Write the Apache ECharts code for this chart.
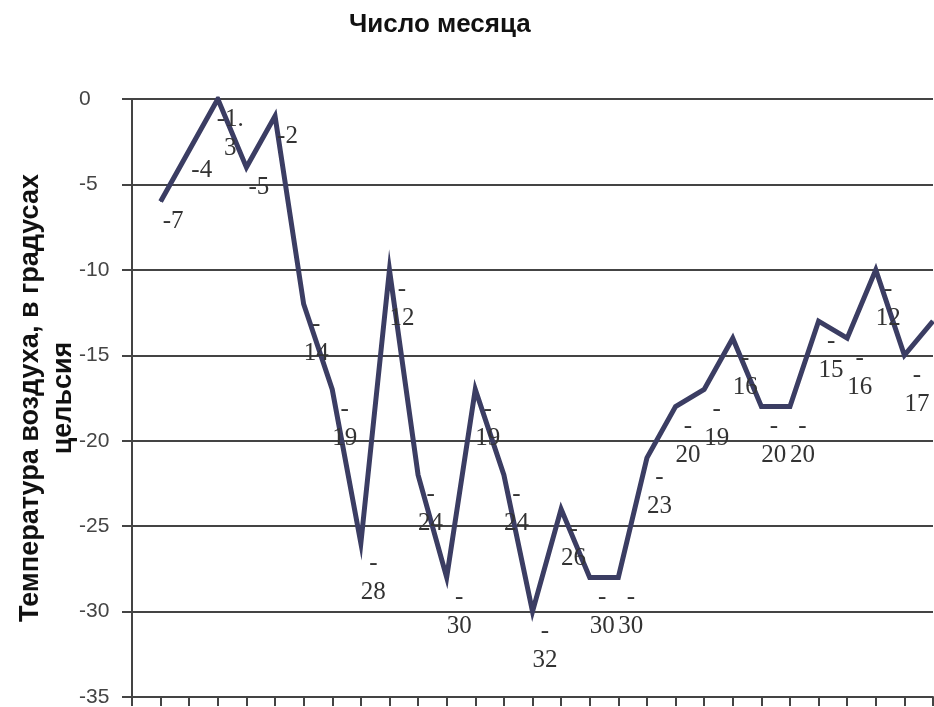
<!DOCTYPE html>
<html>
<head>
<meta charset="utf-8">
<title>Число месяца</title>
<script src="https://cdn.jsdelivr.net/npm/echarts@6/dist/echarts.min.js"></script>
<style>
  html, body { margin: 0; padding: 0; background: #fff; }
  #chart { width: 934px; height: 707px; }
</style>
</head>
<body>
<div id="chart"></div>
<script>
// дни месяца (1..28) и температура по линии графика
var days = [1, 2, 3, 4, 5, 6, 7, 8, 9, 10, 11, 12, 13, 14, 15, 16, 17, 18, 19, 20, 21, 22, 23, 24, 25, 26, 27, 28]
var temps = [-6, -3, 0, -4, -1, -12, -17, -26, -10, -22, -28, -17, -22, -30, -24, -28, -28, -21, -18, -17, -14, -18, -18, -13, -14, -10, -15, -13]
// подписи данных, как они напечатаны на графике
var pointLabels = [-7, -4, -1.3, -5, -2, -14, -19, -28, -12, -24, -30, -19, -24, -32, -26, -30, -30, -23, -20, -19, -16, -20, -20, -15, -16, -12, -17, null]
var yTicks = [0, -5, -10, -15, -20, -25, -30, -35]

var seriesData = days.map(function (d, i) { return [d, temps[i]] })

// подписи переносятся как в исходнике: минус отдельной строкой
function wrapLabel (v) {
  if (v === null || v === undefined) return ''
  var s = String(v)
  if (s.length <= 2) return s
  if (Math.round(v) === v) return '-\n' + s.slice(1)
  return s.slice(0, 3) + '\n' + s.slice(3)
}

var myChart = echarts.init(document.getElementById('chart'))
myChart.setOption({
  animation: false,
  title: {
    text: 'Число месяца',
    left: 344,
    top: 7,
    textStyle: {
      fontFamily: 'Liberation Sans, Arial, sans-serif',
      fontSize: 26,
      fontWeight: 'bold',
      color: '#111'
    }
  },
  grid: {
    left: 132,
    right: 1,
    top: 99,
    bottom: 10,
    containLabel: false,
    outerBoundsMode: 'none'
  },
  xAxis: {
    type: 'value',
    min: 0,
    max: days.length,
    interval: 1,
    axisLine: { onZero: false, lineStyle: { color: '#444', width: 2 } },
    axisTick: { show: true, inside: false, length: 9, lineStyle: { color: '#444', width: 2 } },
    axisLabel: { show: false },
    splitLine: { show: false }
  },
  yAxis: {
    type: 'value',
    min: yTicks[yTicks.length - 1],
    max: yTicks[0],
    interval: 5,
    name: 'Температура воздуха, в градусах\nцельсия',
    nameLocation: 'middle',
    nameRotate: 90,
    nameGap: 52,
    nameMoveOverlap: false,
    nameTextStyle: {
      fontFamily: 'Liberation Sans, Arial, sans-serif',
      fontSize: 27,
      fontWeight: 'bold',
      color: '#111',
      lineHeight: 33
    },
    axisLine: { show: true, onZero: false, lineStyle: { color: '#444', width: 2 } },
    axisTick: { show: true, inside: false, length: 10, lineStyle: { color: '#444', width: 2 } },
    axisLabel: {
      margin: 53,
      align: 'left',
      fontFamily: 'Liberation Sans, Arial, sans-serif',
      fontSize: 21,
      color: '#444'
    },
    splitLine: { show: true, lineStyle: { color: '#444', width: 2 } }
  },
  series: [
    {
      name: 'Температура',
      type: 'line',
      data: seriesData,
      symbol: 'circle',
      symbolSize: 1,
      showSymbol: true,
      itemStyle: { color: '#3b3d63' },
      lineStyle: { color: '#3b3d63', width: 5, join: 'miter', miterLimit: 20 },
      label: {
        show: true,
        position: [13, 6],
        align: 'center',
        verticalAlign: 'top',
        fontFamily: 'Liberation Serif, Times New Roman, serif',
        fontSize: 25,
        lineHeight: 29,
        color: '#333',
        formatter: function (p) { return wrapLabel(pointLabels[p.dataIndex]) }
      }
    }
  ]
})
</script>
</body>
</html>
